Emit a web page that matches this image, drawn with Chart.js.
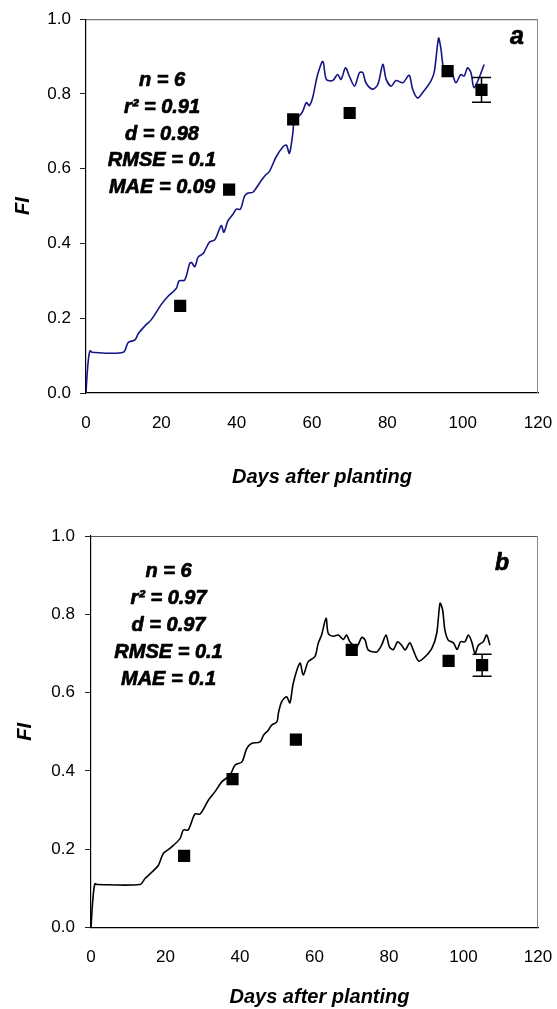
<!DOCTYPE html>
<html>
<head>
<meta charset="utf-8">
<title>FI – simulated vs observed</title>
<script src="https://cdn.jsdelivr.net/npm/chart.js@4.4.1/dist/chart.umd.min.js"></script>
<style>
  html, body { margin: 0; padding: 0; background: #fff; }
  #wrap { position: relative; width: 557px; height: 1009px; }
  canvas { position: absolute; left: 0; display: block; }
  #cA { top: 0; }
  #cB { top: 505px; }
</style>
</head>
<body>
<div id="wrap">
  <canvas id="cA" width="557" height="505"></canvas>
  <canvas id="cB" width="557" height="504"></canvas>
</div>
<script>
// ---- axis ticks ----
const xTicks = [0, 20, 40, 60, 80, 100, 120];
const yTicks = [0.0, 0.2, 0.4, 0.6, 0.8, 1.0];

// ---- panel a: simulated FI (days after planting, FI) ----
const simDaysA = [0, 0.3, 0.7, 1.1, 1.6, 9.9, 11.2, 13.0, 13.9, 15.6, 17.4, 20.0, 21.8, 24.0, 24.7, 26.2,
  27.5, 28.0, 28.9, 29.8, 31.1, 32.8, 34.2, 35.9, 36.6, 37.7, 39.0, 39.9, 41.0, 42.1, 43.0, 44.3,
  46.1, 47.4, 48.7, 50.5, 52.3, 53.2, 54.0, 54.9, 55.4, 56.7, 57.6, 58.5, 59.3, 60.2, 61.5, 62.9,
  63.8, 65.5, 66.8, 67.7, 68.9, 69.9, 71.3, 72.6, 73.5, 74.3, 76.1, 77.5, 78.8, 79.7, 81.0, 82.3,
  84.1, 85.8, 86.7, 88.0, 89.4, 91.6, 92.5, 93.6, 94.2, 95.1, 96.9, 98.2, 99.5, 100.4, 101.3, 102.2,
  103.0, 104.4, 105.7];
const simFiA = [0, 0.05, 0.095, 0.113, 0.109, 0.109, 0.135, 0.142, 0.159, 0.179, 0.197, 0.237, 0.259, 0.280, 0.300, 0.302,
  0.346, 0.349, 0.338, 0.364, 0.373, 0.404, 0.410, 0.448, 0.430, 0.461, 0.478, 0.492, 0.492, 0.527, 0.535, 0.537,
  0.562, 0.580, 0.593, 0.632, 0.659, 0.663, 0.641, 0.694, 0.738, 0.742, 0.755, 0.777, 0.769, 0.791, 0.852, 0.887,
  0.839, 0.836, 0.852, 0.839, 0.870, 0.848, 0.821, 0.857, 0.857, 0.830, 0.813, 0.826, 0.879, 0.839, 0.821, 0.836,
  0.830, 0.850, 0.813, 0.789, 0.804, 0.835, 0.861, 0.949, 0.923, 0.865, 0.861, 0.830, 0.852, 0.848, 0.870, 0.857,
  0.817, 0.844, 0.879];

// ---- panel a: measured FI ----
const obsDaysA = [25, 38, 55, 70, 96, 105];
const obsFiA   = [0.233, 0.544, 0.732, 0.749, 0.861, 0.811];
const obsErrA  = [0, 0, 0, 0, 0, 0.033];

// ---- panel b: simulated FI ----
const simDaysB = [0, 0.4, 0.8, 1.1, 1.6, 13.2, 14.5, 16.3, 18.1, 19.4, 21.2, 23.9, 24.8, 26.1, 27.9, 29.3,
  31.5, 33.3, 35.1, 37.3, 38.7, 40.5, 41.8, 43.1, 45.4, 46.3, 47.6, 48.5, 49.9, 50.3, 51.2, 52.5,
  53.4, 54.3, 56.1, 57.0, 58.3, 60.1, 61.0, 61.9, 63.1, 63.7, 65.1, 66.4, 67.7, 68.6, 69.5, 71.3,
  72.7, 73.6, 74.4, 76.7, 78.0, 79.2, 80.1, 81.2, 82.3, 83.4, 84.3, 85.6, 86.5, 87.9, 89.2, 91.5,
  92.8, 93.7, 94.4, 95.0, 95.9, 97.3, 98.3, 99.2, 100.4, 101.3, 102.2, 103.1, 104.0, 105.3, 106.2, 107.1];
const simFiB = [0, 0.06, 0.10, 0.112, 0.110, 0.110, 0.125, 0.141, 0.159, 0.189, 0.202, 0.227, 0.249, 0.249, 0.290, 0.290,
  0.325, 0.347, 0.372, 0.389, 0.415, 0.423, 0.457, 0.470, 0.474, 0.491, 0.504, 0.517, 0.525, 0.547, 0.577, 0.589,
  0.574, 0.624, 0.675, 0.645, 0.679, 0.692, 0.726, 0.747, 0.790, 0.751, 0.744, 0.747, 0.736, 0.747, 0.730, 0.717,
  0.741, 0.734, 0.709, 0.704, 0.721, 0.747, 0.717, 0.710, 0.730, 0.721, 0.709, 0.727, 0.709, 0.681, 0.687, 0.713,
  0.751, 0.828, 0.811, 0.760, 0.734, 0.727, 0.710, 0.730, 0.730, 0.747, 0.730, 0.700, 0.721, 0.730, 0.747, 0.721];

// ---- panel b: measured FI ----
const obsDaysB = [25, 38, 55, 70, 96, 105];
const obsFiB   = [0.183, 0.379, 0.480, 0.709, 0.681, 0.670];
const obsErrB  = [0, 0, 0, 0, 0, 0.028];

// ---- goodness-of-fit statistics shown in each panel ----
const statsA = ['n = 6', 'r\u00B2 = 0.91', 'd = 0.98', 'RMSE = 0.1', 'MAE = 0.09'];
const statsB = ['n = 6', 'r\u00B2 = 0.97', 'd = 0.97', 'RMSE = 0.1', 'MAE = 0.1'];

const FAMILY = '"Liberation Sans", Arial, Helvetica, sans-serif';

function pairs(xs, ys) { return xs.map((x, i) => ({ x: x, y: ys[i] })); }

// Grey frame on the top and right of the plot area
const framePlugin = {
  id: 'frame',
  afterDraw(chart) {
    const { ctx, chartArea: a } = chart;
    ctx.save();
    ctx.lineWidth = 1;
    ctx.strokeStyle = '#555';
    ctx.beginPath();
    ctx.moveTo(a.left, a.top + 0.5);
    ctx.lineTo(a.right, a.top + 0.5);
    ctx.stroke();
    ctx.strokeStyle = '#888';
    ctx.beginPath();
    ctx.moveTo(a.right - 0.5, a.top);
    ctx.lineTo(a.right - 0.5, a.bottom);
    ctx.stroke();
    ctx.restore();
  }
};

// Vertical error bars with caps on the measured points
const errorBarPlugin = {
  id: 'errorBars',
  afterDatasetsDraw(chart, args, opts) {
    const { ctx, scales: { x, y } } = chart;
    const xs = opts.days, ys = opts.values, es = opts.errors;
    ctx.save();
    ctx.strokeStyle = '#000';
    ctx.lineWidth = 1.5;
    xs.forEach((d, i) => {
      const e = es[i];
      if (!e) return;
      const px = x.getPixelForValue(d);
      const top = y.getPixelForValue(ys[i] + e);
      const bot = y.getPixelForValue(ys[i] - e);
      ctx.beginPath();
      ctx.moveTo(px, top); ctx.lineTo(px, bot);
      ctx.moveTo(px - 9.5, top); ctx.lineTo(px + 9.5, top);
      ctx.moveTo(px - 9.5, bot); ctx.lineTo(px + 9.5, bot);
      ctx.stroke();
    });
    ctx.restore();
  }
};

// Statistics block and panel letter (heavy bold italic)
const notesPlugin = {
  id: 'notes',
  afterDatasetsDraw(chart, args, opts) {
    const { ctx } = chart;
    ctx.save();
    ctx.fillStyle = '#000';
    ctx.strokeStyle = '#000';
    ctx.lineWidth = 0.7;
    ctx.lineJoin = 'round';
    ctx.textAlign = 'center';
    ctx.textBaseline = 'middle';
    ctx.font = 'italic bold 20px ' + FAMILY;
    opts.lines.forEach((t, i) => {
      const yy = opts.y0 + i * opts.dy;
      ctx.fillText(t, opts.cx, yy);
      ctx.strokeText(t, opts.cx, yy);
    });
    ctx.font = 'italic bold ' + opts.letterSize + 'px ' + FAMILY;
    ctx.fillText(opts.letter, opts.lx, opts.ly);
    ctx.strokeText(opts.letter, opts.lx, opts.ly);
    ctx.restore();
  }
};

function makeChart(id, cfg) {
  const tickFont = { family: FAMILY, size: 17 };
  const titleFont = { family: FAMILY, size: 20, weight: 'bold', style: 'italic' };
  return new Chart(document.getElementById(id), {
    type: 'scatter',
    data: {
      datasets: [
        {
          label: 'Measured',
          data: pairs(cfg.obsDays, cfg.obsFi),
          pointStyle: 'rect',
          pointRadius: 8.6,
          pointHoverRadius: 8.6,
          backgroundColor: '#000',
          borderColor: '#000',
          borderWidth: 0,
          showLine: false,
          order: 0
        },
        {
          label: 'Simulated',
          data: pairs(cfg.simDays, cfg.simFi),
          showLine: true,
          tension: 0.3,
          borderColor: cfg.lineColor,
          borderWidth: 1.6,
          pointRadius: 0,
          fill: false,
          order: 1
        }
      ]
    },
    options: {
      responsive: false,
      animation: false,
      events: [],
      layout: { padding: { top: cfg.padTop, right: 19, left: 0, bottom: 0 } },
      plugins: {
        legend: { display: false },
        tooltip: { enabled: false },
        errorBars: { days: cfg.obsDays, values: cfg.obsFi, errors: cfg.obsErr },
        notes: cfg.notes
      },
      scales: {
        x: {
          type: 'linear',
          min: xTicks[0],
          max: xTicks[xTicks.length - 1],
          afterBuildTicks: (s) => { s.ticks = xTicks.map(v => ({ value: v })); },
          afterFit: (s) => { s.height = cfg.xHeight; },
          ticks: { font: tickFont, color: '#000', padding: 0, maxRotation: 0 },
          // invisible tick marks just push the labels down from the axis line
          grid: { drawOnChartArea: false, drawTicks: true, tickLength: cfg.xTickGap, tickColor: 'rgba(0,0,0,0)' },
          border: { color: '#000', width: 1.2 },
          title: { display: true, text: cfg.xTitle, font: titleFont, color: '#000',
                   padding: { top: 0, bottom: cfg.xTitlePad } }
        },
        y: {
          type: 'linear',
          min: yTicks[0],
          max: yTicks[yTicks.length - 1],
          afterBuildTicks: (s) => { s.ticks = yTicks.map(v => ({ value: v })); },
          afterFit: (s) => { s.width = cfg.yWidth; },
          ticks: { font: tickFont, color: '#000', padding: cfg.yTickPad,
                   callback: (v) => Number(v).toFixed(1) },
          grid: { drawOnChartArea: false, drawTicks: true, tickLength: 6, color: '#222', lineWidth: 1 },
          border: { color: '#000', width: 1.2 },
          title: { display: true, text: 'FI', font: titleFont, color: '#000',
                   padding: { top: cfg.yTitlePad, bottom: 0 } }
        }
      }
    },
    plugins: [framePlugin, errorBarPlugin, notesPlugin]
  });
}

makeChart('cA', {
  simDays: simDaysA, simFi: simFiA, obsDays: obsDaysA, obsFi: obsFiA, obsErr: obsErrA,
  lineColor: '#151585', xTitle: '\u2003Days after planting',
  padTop: 15, xHeight: 112, yWidth: 86, xTickGap: 20, xTitlePad: 16, yTickPad: 9, yTitlePad: 11,
  notes: { lines: statsA, cx: 162, y0: 80.5, dy: 26.8, letter: 'a', lx: 517, ly: 37, letterSize: 25 }
});

makeChart('cB', {
  simDays: simDaysB, simFi: simFiB, obsDays: obsDaysB, obsFi: obsFiB, obsErr: obsErrB,
  lineColor: '#000', xTitle: '\u2002Days after planting',
  padTop: 31, xHeight: 81.5, yWidth: 91, xTickGap: 20, xTitlePad: 0, yTickPad: 10, yTitlePad: 13,
  notes: { lines: statsB, cx: 168.5, y0: 66.5, dy: 27, letter: 'b', lx: 502, ly: 59, letterSize: 23 }
});
</script>
</body>
</html>
